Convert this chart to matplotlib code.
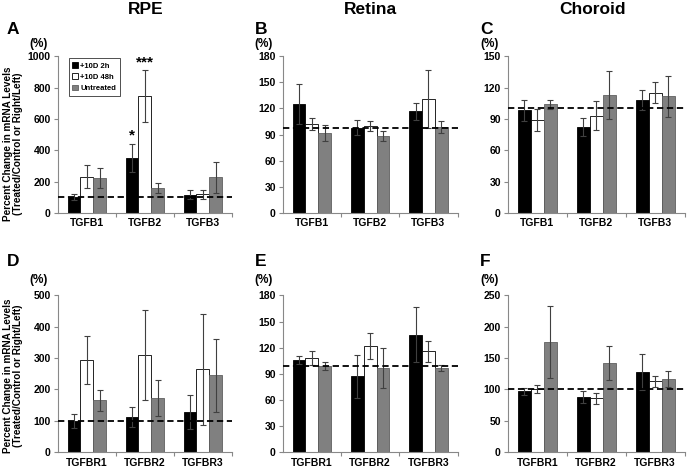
import numpy as np
import matplotlib
matplotlib.use("Agg")
import matplotlib.pyplot as plt

plt.rcParams['font.family'] = ['Liberation Sans', 'DejaVu Sans']
plt.rcParams['font.weight'] = 'bold'

lig_genes = ["TGFB1", "TGFB2", "TGFB3"]
rec_genes = ["TGFBR1", "TGFBR2", "TGFBR3"]
series = ["+10D 2h", "+10D 48h", "Untreated"]

# RPE ligands
A_2h = [103, 352, 117]
A_2h_err = [19, 90, 30]
A_48h = [231, 748, 118]
A_48h_err = [72, 165, 28]
A_un = [224, 160, 226]
A_un_err = [65, 32, 100]
# retina ligands
B_2h = [125, 98, 116.5]
B_2h_err = [23, 8.5, 9.5]
B_48h = [102, 100, 131]
B_48h_err = [7, 5.5, 33]
B_un = [92, 88, 98.5]
B_un_err = [9.5, 5.5, 7]
# choroid ligands
C_2h = [98, 82, 108]
C_2h_err = [10, 8.5, 10]
C_48h = [89, 93, 115]
C_48h_err = [10.5, 14, 10.3]
C_un = [104, 113, 111.5]
C_un_err = [4.5, 23, 19.5]
# RPE receptors
D_2h = [99, 112, 127]
D_2h_err = [23, 32, 54]
D_48h = [295, 310, 264]
D_48h_err = [77, 145, 177]
D_un = [165, 173, 245]
D_un_err = [34, 56, 117]
# retina receptors
E_2h = [106, 87, 135]
E_2h_err = [5, 24.6, 31.6]
E_48h = [108, 122, 116]
E_48h_err = [8, 15, 12]
E_un = [99, 96.7, 96.7]
E_un_err = [5, 23, 3.3]
# choroid receptors
F_2h = [97, 88, 128]
F_2h_err = [6, 9, 29]
F_48h = [100.5, 86, 113]
F_48h_err = [6.5, 8.5, 9.3]
F_un = [175.5, 142, 116.5]
F_un_err = [57.5, 27.5, 12.7]

ref_lines = [100, 98, 100, 100, 99, 100]
ymax = [1000, 180, 150, 500, 180, 250]
ystep = [200, 30, 30, 100, 30, 50]
letters = ["A", "B", "C", "D", "E", "F"]
titles = ["RPE", "Retina", "Choroid"]

panels = [
    (lig_genes, A_2h, A_2h_err, A_48h, A_48h_err, A_un, A_un_err),
    (lig_genes, B_2h, B_2h_err, B_48h, B_48h_err, B_un, B_un_err),
    (lig_genes, C_2h, C_2h_err, C_48h, C_48h_err, C_un, C_un_err),
    (rec_genes, D_2h, D_2h_err, D_48h, D_48h_err, D_un, D_un_err),
    (rec_genes, E_2h, E_2h_err, E_48h, E_48h_err, E_un, E_un_err),
    (rec_genes, F_2h, F_2h_err, F_48h, F_48h_err, F_un, F_un_err),
]

fig = plt.figure(figsize=(6.88, 4.72), dpi=100)
lefts = [0.084, 0.411, 0.738]
widths = [0.253, 0.254, 0.257]
bottoms = [0.549, 0.042]
height = 0.332

face = ["black", "white", "#808080"]
edge = ["black", "black", "#606060"]
w = 0.22

axes = []
for i, p in enumerate(panels):
    r, c = divmod(i, 3)
    ax = fig.add_axes([lefts[c], bottoms[r], widths[c], height])
    axes.append(ax)
    genes = p[0]
    x = np.arange(len(genes))
    for k in range(3):
        vals = p[1 + 2 * k]
        errs = p[2 + 2 * k]
        ax.bar(x + (k - 1) * w, vals, w, color=face[k], edgecolor=edge[k],
               linewidth=0.6, label=series[k], zorder=2)
        ax.errorbar(x + (k - 1) * w, vals, yerr=errs, fmt="none",
                    ecolor="#404040", elinewidth=0.8, capsize=2.2, capthick=0.8, zorder=3)
    ax.axhline(ref_lines[i], color="black", ls=(0, (3.5, 2)), lw=1.3, zorder=4)
    ax.set_xlim(-0.5, 2.5)
    ax.set_ylim(0, ymax[i])
    ax.set_yticks(np.arange(0, ymax[i] + 1, ystep[i]))
    ax.set_xticks([0.5, 1.5, 2.5])
    ax.set_xticklabels([])
    ax.set_xticks(x, minor=True)
    ax.set_xticklabels(genes, minor=True, fontsize=7.5, fontweight="bold")
    ax.tick_params(axis="x", which="minor", length=0, pad=4)
    ax.tick_params(axis="x", which="major", length=3, color="#888888")
    ax.tick_params(axis="y", labelsize=7.5, length=3, color="#888888", pad=2)
    for lb in ax.get_yticklabels():
        lb.set_fontweight("bold")
    for s in ["top", "right"]:
        ax.spines[s].set_visible(False)
    for s in ["left", "bottom"]:
        ax.spines[s].set_color("#888888")
        ax.spines[s].set_linewidth(0.8)

# significance stars on RPE TGFB2
axes[0].text(1 - w, A_2h[1] + A_2h_err[1] + 10, "*", ha="center", va="bottom", fontsize=11, fontweight="bold")
axes[0].text(1, A_48h[1] + A_48h_err[1] + 0, "***", ha="center", va="bottom", fontsize=11, fontweight="bold")

leg = axes[0].legend(loc="upper left", bbox_to_anchor=(0.04, 1.01), fontsize=5.5, frameon=True,
                     fancybox=False, edgecolor="black", handlelength=0.7, handleheight=0.7,
                     handletextpad=0.3, borderpad=0.5, labelspacing=0.5)
leg.get_frame().set_linewidth(0.6)
for t in leg.get_texts():
    t.set_fontweight("bold")

for ax, yc in ((axes[0], 0.44), (axes[3], 0.49)):
    ax.set_ylabel("Percent Change in mRNA Levels\n(Treated/Control or Right/Left)",
                  fontsize=7.2, fontweight="bold", linespacing=1.0)
    ax.yaxis.set_label_coords(-0.2, yc)

# panel letters, (%) and column titles in figure pixels
let_x = [7, 255, 480]
let_y = [30, 262]
pct_x = [29, 254, 480]
pct_y = [44, 280]
for i in range(6):
    r, c = divmod(i, 3)
    fig.text(let_x[c] / 688, 1 - let_y[r] / 472, letters[i], fontsize=12.5, fontweight="bold",
             ha="left", va="center")
    fig.text(pct_x[c] / 688, 1 - pct_y[r] / 472, "(%)", fontsize=8.5, fontweight="bold",
             ha="left", va="center")

title_x = [146, 370, 593]
for c in range(3):
    fig.text(title_x[c] / 688, 1 - 9 / 472, titles[c], fontsize=12.5, fontweight="bold",
             ha="center", va="center")

fig.savefig("out.png", dpi=100)
